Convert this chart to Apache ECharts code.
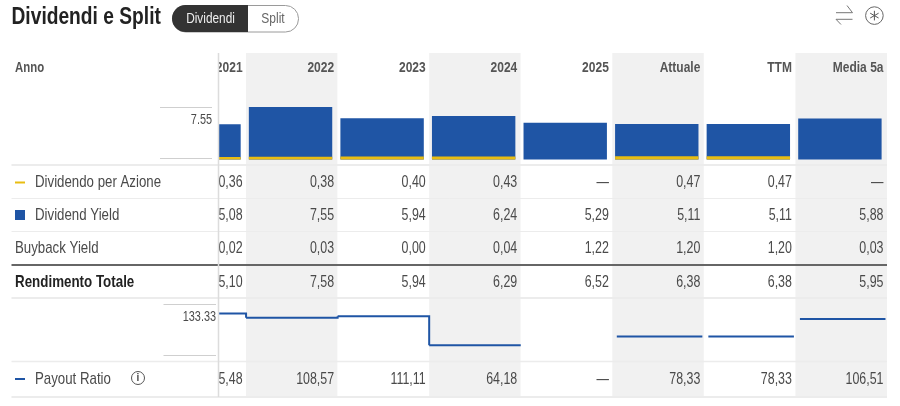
<!DOCTYPE html>
<html><head><meta charset="utf-8">
<style>html,body{margin:0;padding:0;background:#fff}#c{width:900px;height:406px}</style>
<script src="https://cdn.jsdelivr.net/npm/echarts@6/dist/echarts.min.js"></script>
</head><body><div id="c"></div>
<script>
const categories=['2021','2022','2023','2024','2025','Attuale','TTM','Media 5a'];
const dividendPerShare=[0.36,0.38,0.40,0.43,null,0.47,0.47,null];
const dividendYield=[5.08,7.55,5.94,6.24,5.29,5.11,5.11,5.88];
const buybackYield=[0.02,0.03,0.00,0.04,1.22,1.20,1.20,0.03];
const totalYield=[5.10,7.58,5.94,6.29,6.52,6.38,6.38,5.95];
const payoutRatio=[115.48,108.57,111.11,64.18,null,78.33,78.33,106.51];
const payoutGroups=['a','a','a','a',null,'b','c','d'];
const rowLabels=['Dividendo per Azione','Dividend Yield','Buyback Yield','Rendimento Totale','Payout Ratio'];
const FONT='"Liberation Sans",sans-serif';
const BLUE='#1f55a5',YEL='#e8bd12',TXT='#4a4a4a';
const COLL=154.5,COLW=91.56;
const fmt=v=>v==null?'—':v.toFixed(2).replace('.',',');
const T=(text,x,y,size,o={})=>({type:'text',z:o.z||10,silent:true,x,y,scaleX:o.sx||0.78,
  style:{text,x:0,y:0,font:`${o.bold?'bold ':''}${size}px ${FONT}`,fill:o.fill||TXT,align:o.align||'left',verticalAlign:'middle'}});
const L=(x1,y1,x2,y2,c,w)=>({type:'line',z:9,silent:true,shape:{x1,y1,x2,y2},style:{stroke:c,lineWidth:w}});
const R=(x,y,width,height,fill,z=9,r=0)=>({type:'rect',z,silent:true,shape:{x,y,width,height,r},style:{fill}});
const g=[];
// clip of the scrolled first column
g.push(R(0,53,218,344,'#fff',5));
// row rules
[[165,'#ececec',2],[198.5,'#ececec',1],[231.5,'#ececec',1],[265,'#666',2],[298,'#ececec',2],[361.5,'#ececec',1.5],[397,'#ececec',2]].forEach(r=>g.push(L(11.5,r[0],887,r[0],r[1],r[2])));
g.push(L(218.5,53,218.5,397,'#dcdcdc',1.5));
// mini axes
g.push(L(160,107.5,212,107.5,'#cfcfcf',1),L(160,158.5,212,158.5,'#cfcfcf',1),L(163.5,304.5,216,304.5,'#cfcfcf',1),L(163.5,355.5,216,355.5,'#cfcfcf',1));
g.push(T('7.55',212,120,14.5,{align:'right',sx:.75}),T('133.33',216,317,14.5,{align:'right',sx:.75}));
// title
g.push(T('Dividendi e Split',11.5,17.5,24,{bold:true,fill:'#222',sx:.8}));
g.push(R(172.5,5.5,126,26.5,'#fff',8,13),{type:'rect',z:9,silent:true,shape:{x:172.5,y:5.5,width:126,height:26.5,r:13},style:{fill:'none',stroke:'#9a9a9a',lineWidth:1}});
g.push(R(172,5,76,27,'#333',9,[13.5,0,0,13.5]));
g.push(T('Dividendi',210.5,19,15,{align:'center',fill:'#eee',sx:.79}),T('Split',273,19,15,{align:'center',fill:'#666',sx:.8}));
// tool icons
const PL=pts=>({type:'polyline',z:9,silent:true,shape:{points:pts},style:{fill:'none',stroke:'#777',lineWidth:1}});
g.push(PL([[847,5.5],[852.5,12.7],[836,12.7]]),PL([[852.5,19.3],[836,19.3],[841,24.5]]));
g.push({type:'circle',z:9,silent:true,shape:{cx:874.4,cy:15.6,r:8.8},style:{fill:'none',stroke:'#666',lineWidth:1}});
g.push(L(874.4,10.8,874.4,20.4,'#555',1),L(870.2,13.2,878.6,18,'#555',1),L(870.2,18,878.6,13.2,'#555',1));
// left labels
g.push(T('Anno',15,68,15,{bold:true,fill:'#555',sx:.76}));
g.push(L(15,182.5,25,182.5,YEL,2),R(15,210,10,10,BLUE,10),L(15,379,25,379,BLUE,2));
g.push(T(rowLabels[0],35,182.5,17),T(rowLabels[1],35,215.5,17),T(rowLabels[2],15,248.5,17),T(rowLabels[3],15,282.5,16.5,{bold:true,fill:'#222',sx:.81}),T(rowLabels[4],35,379.5,17));
g.push({type:'circle',z:9,silent:true,shape:{cx:138,cy:378,r:6.5},style:{fill:'none',stroke:'#555',lineWidth:1}},T('i',138,378.5,10,{align:'center',bold:true,sx:1}));
// column cells (sit under the clip so the first column is cut off)
const cell=(t,i,y,size,bold)=>T(t,COLL+COLW*(i+1)-3.5,y,size,{align:'right',bold,fill:bold?'#555':TXT,sx:bold?.8:.73,z:3});
categories.forEach((c,i)=>{
  g.push(cell(c,i,68,15,true),cell(fmt(dividendPerShare[i]),i,182,17),cell(fmt(dividendYield[i]),i,215,17),cell(fmt(buybackYield[i]),i,248,17),cell(fmt(totalYield[i]),i,282,17),cell(fmt(payoutRatio[i]),i,379,17));
});
const hidden={show:false};
const chart=echarts.init(document.getElementById('c'),null,{renderer:'canvas'});
chart.setOption({
  animation:false,
  grid:[
    {left:COLL,width:COLW*8,top:53,height:344},
    {left:COLL-1.3,width:COLW*8,top:107,height:52.4},
    {left:COLL+0.0,width:COLW*8,top:302.5,height:53}
  ],
  xAxis:[
    {gridIndex:0,type:'category',data:categories,axisLine:hidden,axisTick:hidden,axisLabel:hidden,splitLine:hidden,
     splitArea:{show:true,interval:0,areaStyle:{color:['#ffffff','#f1f1f1']}}},
    {gridIndex:1,type:'category',data:categories,show:false},
    {gridIndex:2,type:'category',data:categories,show:false}
  ],
  yAxis:[
    {gridIndex:0,type:'value',show:false},
    {gridIndex:1,type:'value',min:0,max:7.55,show:false},
    {gridIndex:2,type:'value',min:47.5,max:133.33,show:false}
  ],
  series:[
    {name:'Dividend Yield',type:'bar',xAxisIndex:1,yAxisIndex:1,data:dividendYield,barWidth:83.4,barGap:'-100%',itemStyle:{color:BLUE}},
    {name:'Dividendo per Azione',type:'bar',xAxisIndex:1,yAxisIndex:1,data:dividendPerShare,barWidth:83.4,barGap:'-100%',itemStyle:{color:YEL}},
    {name:'Payout Ratio',type:'custom',xAxisIndex:2,yAxisIndex:2,clip:false,
     data:payoutRatio.map((v,i)=>[i,v]),
     encode:{x:0,y:1},
     renderItem(params,api){
       const i=api.value(0),v=payoutRatio[i];
       if(v==null)return null;
       const c=api.coord([i,v]),w=api.size([1,0])[0];
       const grp=payoutGroups[i],linked=payoutGroups.filter(x=>x===grp).length>1;
       const x1=linked?c[0]-w/2:c[0]-w/2+4.5,x2=linked?c[0]+w/2:c[0]+w/2-1.5;
       const pts=[[x1,c[1]],[x2,c[1]]];
       if(linked&&payoutGroups[i+1]===grp)pts.push([x2,api.coord([i+1,payoutRatio[i+1]])[1]]);
       return {type:'polyline',shape:{points:pts},style:{fill:null,stroke:BLUE,lineWidth:2,lineJoin:'miter'}};
     }}
  ],
  graphic:{elements:g}
});
</script></body></html>
